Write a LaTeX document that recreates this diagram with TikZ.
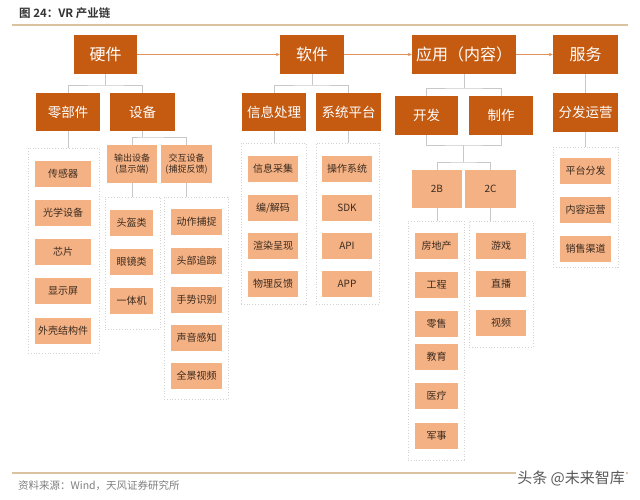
\documentclass[tikz,border=0pt]{standalone}
\usepackage{fontspec}
\setmainfont{Noto Sans CJK SC}
\newfontfamily\cjk{Noto Sans CJK SC}
\newfontfamily\cjkb{Noto Sans CJK SC Bold}
\usetikzlibrary{arrows.meta}
\definecolor{darkor}{HTML}{C55A11}
\definecolor{lightor}{HTML}{F4B183}
\definecolor{itemtxt}{HTML}{3B2B20}
\definecolor{conn}{HTML}{C8C8C8}
\definecolor{dotc}{HTML}{D2D2D2}
\definecolor{rulec}{HTML}{DCC3A0}
\definecolor{arrc}{HTML}{E0905A}
\tikzset{
  topbox/.style={fill=darkor, text=white, inner sep=0pt, minimum height=39pt, font=\cjk\fontsize{16}{18}\selectfont},
  secbox/.style={fill=darkor, text=white, inner sep=0pt, minimum height=38pt, font=\cjk\fontsize{13.5}{15}\selectfont},
  midbox/.style={fill=lightor, text=itemtxt, inner sep=0pt, minimum height=38pt, font=\cjk\fontsize{9}{11}\selectfont, align=center},
  item/.style={fill=lightor, text=itemtxt, inner sep=0pt, minimum height=25.5pt, font=\cjk\fontsize{10}{12}\selectfont},
  dotbox/.style={draw=dotc, dotted, line width=0.8pt, inner sep=0pt},
  cn/.style={draw=conn, line width=0.8pt},
  arr/.style={draw=arrc, line width=1pt, -{Stealth[length=4pt,width=3.5pt]}},
}
\begin{document}
\begin{tikzpicture}[x=1pt,y=-1pt]
\useasboundingbox (0,0) rectangle (640,500);
\fill[white] (0,0) rectangle (640,500);
% title
\node[anchor=west, text=black!80, font=\cjkb\fontsize{11.5}{13}\selectfont, inner sep=0pt] (title) at (19,13) {图 24：VR 产业链};
\draw[rulec, line width=1.2pt] (12,25) -- (628,25);
% top row
\node[topbox, minimum width=63pt] (hw) at (105.5,54.5) {硬件};
\node[topbox, minimum width=64pt] (sw) at (312,54.5) {软件};
\node[topbox, minimum width=104pt] (app) at (464,54.5) {应用（内容）};
\node[topbox, minimum width=65pt] (svc) at (585.5,54.5) {服务};
\draw[arr] (hw) -- (sw);
\draw[arr] (sw) -- (app);
\draw[arr] (app) -- (svc);
% second row
\node[secbox, minimum width=64pt] (lbj) at (68,112) {零部件};
\node[secbox, minimum width=65pt] (sb) at (142.5,112) {设备};
\node[secbox, minimum width=64pt] (xxcl) at (274,112) {信息处理};
\node[secbox, minimum width=65pt] (xtpt) at (348.5,112) {系统平台};
\node[secbox, minimum width=63pt, minimum height=39pt] (kf) at (426.5,115.5) {开发};
\node[secbox, minimum width=64pt, minimum height=39pt] (zz) at (501,115.5) {制作};
\node[secbox, minimum width=65pt, minimum height=39pt] (ffyy) at (585.5,112.5) {分发运营};
% connectors level 1->2
\coordinate (j1) at (105.5,85);
\draw[cn] (hw.south) -- (j1);
\draw[cn] (lbj.north) |- (j1) -| (sb.north);
\coordinate (j2) at (312,85);
\draw[cn] (sw.south) -- (j2);
\draw[cn] (xxcl.north) |- (j2) -| (xtpt.north);
\coordinate (j3) at (464,88);
\draw[cn] (app.south) -- (j3);
\draw[cn] (kf.north) |- (j3) -| (zz.north);
\draw[cn] (svc.south) -- (ffyy.north);
% device children
\node[midbox, minimum width=50pt] (outd) at (132,164) {输出设备\\(显示端)};
\node[midbox, minimum width=51pt] (intd) at (186.5,164) {交互设备\\(捕捉反馈)};
\coordinate (j4) at (142.5,137);
\draw[cn] (sb.south) -- (j4);
\draw[cn] (outd.north) |- (j4) -| (intd.north);
% 2B 2C
\node[midbox, minimum width=50pt, font=\cjk\fontsize{10}{12}\selectfont] (b2) at (437,189) {2B};
\node[midbox, minimum width=51pt, font=\cjk\fontsize{10}{12}\selectfont] (c2) at (490.5,189) {2C};
\coordinate (j5) at (463.5,145);
\coordinate (j6) at (463.5,162);
\draw[cn] (kf.south) |- (j5) -| (zz.south);
\draw[cn] (j5) -- (j6);
\draw[cn] (b2.north) |- (j6) -| (c2.north);
% dotted boxes
\node[dotbox, minimum width=71pt, minimum height=205pt] (d1) at (63.5,250.5) {};
\node[dotbox, minimum width=55pt, minimum height=132pt] (d2) at (132.5,263) {};
\node[dotbox, minimum width=64pt, minimum height=202pt] (d3) at (196,298) {};
\node[dotbox, minimum width=65pt, minimum height=161pt] (d4) at (273.5,223.5) {};
\node[dotbox, minimum width=63pt, minimum height=161pt] (d5) at (347.5,223.5) {};
\node[dotbox, minimum width=56pt, minimum height=239pt] (d6) at (436,340.5) {};
\node[dotbox, minimum width=64pt, minimum height=126pt] (d7) at (501,284) {};
\node[dotbox, minimum width=65pt, minimum height=120pt] (d8) at (585.5,207) {};
\draw[cn] (lbj.south) -- (lbj.south |- d1.north);
\draw[cn] (outd.south) -- (outd.south |- d2.north);
\draw[cn] (intd.south) -- (intd.south |- d3.north);
\draw[cn] (xxcl.south) -- (xxcl.south |- d4.north);
\draw[cn] (xtpt.south) -- (xtpt.south |- d5.north);
\draw[cn] (b2.south) -- (b2.south |- d6.north);
\draw[cn] (c2.south) -- (c2.south |- d7.north);
\draw[cn] (ffyy.south) -- (ffyy.south |- d8.north);
% column 1
\node[item, minimum width=56pt] (a1) at (63,174) {传感器};
\node[item, minimum width=56pt] (a2) at (63,213) {光学设备};
\node[item, minimum width=56pt] (a3) at (63,252) {芯片};
\node[item, minimum width=56pt] (a4) at (63,291) {显示屏};
\node[item, minimum width=56pt] (a5) at (63,331) {外壳结构件};
% column 2
\node[item, minimum width=43pt] (b1) at (131.5,223) {头盔类};
\node[item, minimum width=43pt] (bb2) at (131.5,262) {眼镜类};
\node[item, minimum width=43pt] (b3) at (131.5,301) {一体机};
% column 3
\node[item, minimum width=51pt] (c1) at (196.5,222) {动作捕捉};
\node[item, minimum width=51pt] (cc2) at (196.5,261) {头部追踪};
\node[item, minimum width=51pt] (c3) at (196.5,300) {手势识别};
\node[item, minimum width=51pt] (c4) at (196.5,338) {声音感知};
\node[item, minimum width=51pt] (c5) at (196.5,376) {全景视频};
% column 4
\node[item, minimum width=50pt] (e1) at (273,169) {信息采集};
\node[item, minimum width=50pt] (e2) at (273,208) {编/解码};
\node[item, minimum width=50pt] (e3) at (273,246) {渲染呈现};
\node[item, minimum width=50pt] (e4) at (273,284) {物理反馈};
% column 5
\node[item, minimum width=50pt] (f1) at (347,169) {操作系统};
\node[item, minimum width=50pt] (f2) at (347,208) {SDK};
\node[item, minimum width=50pt] (f3) at (347,246) {API};
\node[item, minimum width=50pt] (f4) at (347,284) {APP};
% 2B column
\node[item, minimum width=43pt] (g1) at (436.5,246) {房地产};
\node[item, minimum width=43pt] (g2) at (436.5,285) {工程};
\node[item, minimum width=43pt] (g3) at (436.5,324) {零售};
\node[item, minimum width=43pt] (g4) at (436.5,357) {教育};
\node[item, minimum width=43pt] (g5) at (436.5,396) {医疗};
\node[item, minimum width=43pt] (g6) at (436.5,436) {军事};
% 2C column
\node[item, minimum width=50pt] (h1) at (501,246) {游戏};
\node[item, minimum width=50pt] (h2) at (501,284) {直播};
\node[item, minimum width=50pt] (h3) at (501,323) {视频};
% service column
\node[item, minimum width=51pt] (k1) at (585.5,171) {平台分发};
\node[item, minimum width=51pt] (k2) at (585.5,210) {内容运营};
\node[item, minimum width=51pt] (k3) at (585.5,249) {销售渠道};
% footer
\draw[rulec, line width=1.2pt] (12,473) -- (628,473);
\node[anchor=west, text=black!50, font=\cjk\fontsize{10.5}{12}\selectfont, inner sep=0pt] (src) at (18,486) {资料来源：Wind，天风证券研究所};
\node[anchor=east, fill=white, text=black!65, font=\cjk\fontsize{15}{17}\selectfont, inner sep=1pt] (wm) at (626,478) {头条 @未来智库};
\end{tikzpicture}
\end{document}
